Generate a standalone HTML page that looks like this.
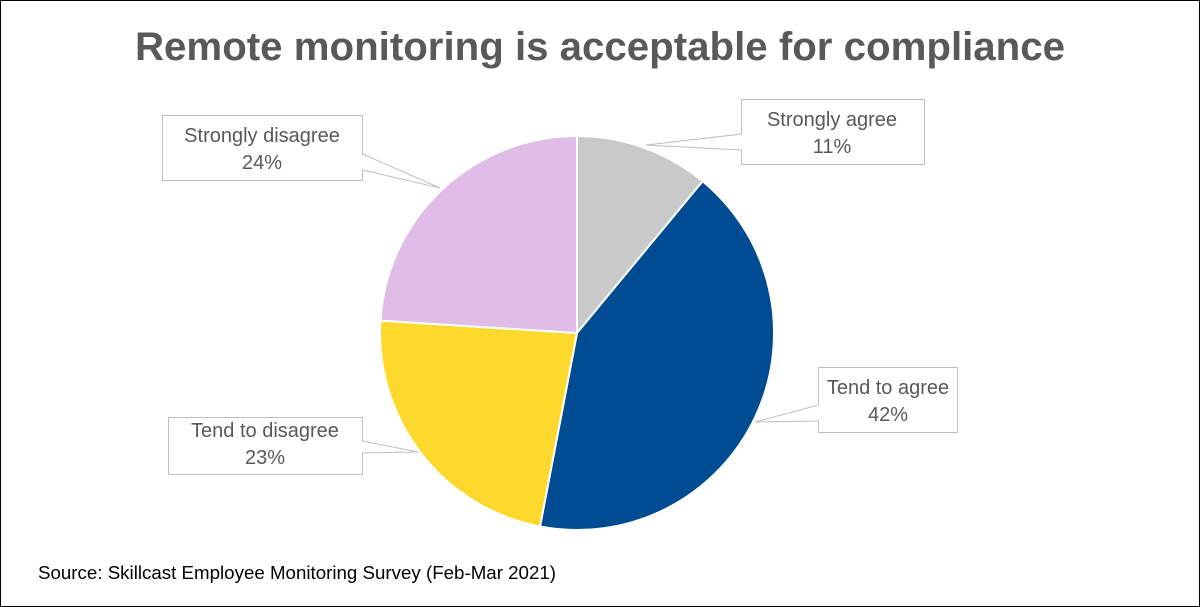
<!DOCTYPE html>
<html><head><style>
body{margin:0;background:#fff}
svg{display:block}
text{font-family:"Liberation Sans",Carlito,sans-serif;fill:#595959}
</style></head><body>
<svg width="1200" height="607" viewBox="0 0 1200 607">
<rect x="0.5" y="0.5" width="1199" height="606" fill="#fff" stroke="#000" stroke-width="1"/>
<text x="600" y="60" font-size="40" font-weight="bold" text-anchor="middle" textLength="930" lengthAdjust="spacingAndGlyphs">Remote monitoring is acceptable for compliance</text>
<g stroke="#fff" stroke-width="2">
<path d="M577,333 L577,136 A197,197 0 0 1 702.6,181.2 Z" fill="#c9c9c9"/>
<path d="M577,333 L702.6,181.2 A197,197 0 0 1 540,526.5 Z" fill="#004c93"/>
<path d="M577,333 L540,526.5 A197,197 0 0 1 380.4,320.6 Z" fill="#fdd92e"/>
<path d="M577,333 L380.4,320.6 A197,197 0 0 1 577,136 Z" fill="#e0bde6"/>
</g>
<g fill="#fff" stroke="#bfbfbf" stroke-width="1">
<polygon points="162.5,115.5 362.5,115.5 362.5,154 440,188 362.5,170 362.5,180.5 162.5,180.5"/>
<polygon points="741.5,99.5 924.5,99.5 924.5,164.5 741.5,164.5 741.5,150 646,145 741.5,134"/>
<polygon points="818.5,367.5 957.5,367.5 957.5,432.5 818.5,432.5 818.5,421 755,422 818.5,405"/>
<polygon points="168.5,417.5 362.5,417.5 362.5,441 418,452 362.5,453 362.5,474.5 168.5,474.5"/>
</g>
<g font-size="20" text-anchor="middle">
<text x="262" y="142">Strongly disagree</text><text x="262" y="169">24%</text>
<text x="832" y="126">Strongly agree</text><text x="832" y="153">11%</text>
<text x="888" y="394">Tend to agree</text><text x="888" y="421">42%</text>
<text x="265" y="437">Tend to disagree</text><text x="265" y="464">23%</text>
</g>
<text x="38" y="579" font-size="18" style="fill:#000" textLength="518" lengthAdjust="spacingAndGlyphs">Source: Skillcast Employee Monitoring Survey (Feb-Mar 2021)</text>
</svg>
</body></html>
